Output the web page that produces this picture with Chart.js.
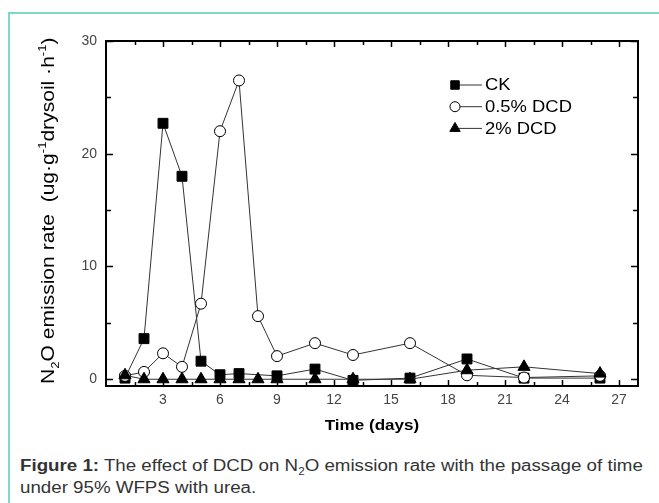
<!DOCTYPE html>
<html><head><meta charset="utf-8">
<script src="https://cdn.jsdelivr.net/npm/chart.js@4"></script>
<style>
html,body{margin:0;padding:0;background:#fff;width:659px;height:503px;overflow:hidden}
#frame{position:absolute;left:8px;top:12px;width:700px;height:600px;border-left:2px solid #7fd6ca;border-top:2px solid #7fd6ca}
#wrap{position:absolute;left:0;top:0;width:659px;height:440px}
#caption{position:absolute;left:20px;top:455px;font:16px "Liberation Sans",Arial,sans-serif;color:#333;line-height:22px;white-space:nowrap;transform:scaleX(1.17);transform-origin:0 0}
#caption sub{font-size:10px;line-height:0}
</style></head>
<body>
<div id="frame"></div>
<div id="wrap"><canvas id="c" width="659" height="440"></canvas></div>
<div id="caption"><b>Figure 1:</b> The effect of DCD on N<sub>2</sub>O emission rate with the passage of time<br>under 95% WFPS with urea.</div>
<script>
// ---- data ----
const seriesNames = ["CK", "0.5% DCD", "2% DCD"];
const ckDays = [1, 2, 3, 4, 5, 6, 7, 9, 11, 13, 16, 19, 22, 26];
const ckValues = [0.1, 3.6, 22.7, 18.0, 1.6, 0.4, 0.5, 0.3, 0.9, -0.1, 0.1, 1.8, 0.1, 0.1];
const dcd05Days = [1, 2, 3, 4, 5, 6, 7, 8, 9, 11, 13, 16, 19, 22, 26];
const dcd05Values = [0.3, 0.65, 2.3, 1.1, 6.7, 22.0, 26.5, 5.6, 2.05, 3.2, 2.15, 3.2, 0.35, 0.15, 0.3];
const dcd2Days = [1, 2, 3, 4, 5, 6, 7, 8, 9, 11, 13, 16, 19, 22, 26];
const dcd2Values = [0.35, 0, 0, 0, 0, 0, 0, 0, 0, 0, 0, 0, 0.8, 1.1, 0.5];
const xTickLabels = [3, 6, 9, 12, 15, 18, 21, 24, 27];
const yTickLabels = [0, 10, 20, 30];

const pts = (xs, ys) => xs.map((x, i) => ({x: x, y: ys[i]}));
const FONT = '"Liberation Sans", Arial, sans-serif';

const datasets = [
  {label: seriesNames[0], data: pts(ckDays, ckValues), pointStyle: 'rect', pointRadius: 7, backgroundColor: '#000', order: 2},
  {label: seriesNames[1], data: pts(dcd05Days, dcd05Values), pointStyle: 'circle', pointRadius: 5.5, backgroundColor: '#fff', order: 1},
  {label: seriesNames[2], data: pts(dcd2Days, dcd2Values), pointStyle: 'triangle', pointRadius: 7, backgroundColor: '#000', order: 0}
].map(d => Object.assign({borderColor: '#333', borderWidth: 1, pointBorderColor: '#000', pointBorderWidth: 1, pointBackgroundColor: d.backgroundColor, pointHoverRadius: d.pointRadius, clip: false, tension: 0}, d));

function drawRich(ctx, segs, size, weight) {
  let x = 0;
  segs.forEach(s => {
    const fs = s.sub || s.sup ? size * 0.62 : size;
    ctx.font = weight + ' ' + fs + 'px ' + FONT;
    const dy = s.sub ? size * 0.3 : (s.sup ? -size * 0.45 : 0);
    ctx.fillText(s.t, x, dy);
    x += ctx.measureText(s.t).width;
  });
}

const decor = {
  id: 'decor',
  afterDatasetsDraw(chart) {
    const ctx = chart.ctx, a = chart.chartArea, xs = chart.scales.x, ys = chart.scales.y;
    ctx.save();
    ctx.strokeStyle = '#000';
    ctx.lineWidth = 2;
    ctx.strokeRect(a.left, a.top, a.right - a.left, a.bottom - a.top);
    ctx.lineWidth = 1.5;
    ctx.beginPath();
    for (let v = 1.5; v <= 27.01; v += 1.5) {
      const px = Math.round(xs.getPixelForValue(v)) + 0.5;
      const len = (Math.abs(v % 3) < 0.01) ? 6 : 4;
      ctx.moveTo(px, a.bottom); ctx.lineTo(px, a.bottom - len);
      ctx.moveTo(px, a.top); ctx.lineTo(px, a.top + len);
    }
    for (let v = 0; v <= 30; v += 5) {
      const py = Math.round(ys.getPixelForValue(v)) + 0.5;
      const len = (v % 10 === 0) ? 7 : 5;
      ctx.moveTo(a.left, py); ctx.lineTo(a.left + len, py);
      ctx.moveTo(a.right, py); ctx.lineTo(a.right - len, py);
    }
    ctx.stroke();

    // legend
    chart.data.datasets.forEach((d, i) => {
      const y = 85 + i * 21.7;
      ctx.strokeStyle = '#333'; ctx.lineWidth = 1;
      ctx.beginPath(); ctx.moveTo(452, y); ctx.lineTo(482, y); ctx.stroke();
      ctx.fillStyle = d.pointBackgroundColor; ctx.strokeStyle = '#000';
      Chart.helpers.drawPoint(ctx, {pointStyle: d.pointStyle, radius: d.pointStyle === 'circle' ? 5 : 6, borderWidth: 1, rotation: 0}, 455, y);
      ctx.save();
      ctx.translate(485, y);
      ctx.scale(1.15, 1);
      ctx.fillStyle = '#000';
      ctx.font = '16px ' + FONT;
      ctx.textBaseline = 'middle';
      ctx.fillText(d.label, 0, 1);
      ctx.restore();
    });

    // x title
    ctx.save();
    ctx.fillStyle = '#000';
    ctx.font = 'bold 14px ' + FONT;
    ctx.textAlign = 'center';
    ctx.textBaseline = 'alphabetic';
    ctx.translate(372, 430);
    ctx.scale(1.22, 1.05);
    ctx.fillText('Time (days)', 0, 0);
    ctx.restore();

    // y title
    ctx.save();
    ctx.fillStyle = '#000';
    ctx.textBaseline = 'alphabetic';
    ctx.translate(54, 384);
    ctx.rotate(-Math.PI / 2);
    ctx.scale(1.17, 1);
    drawRich(ctx, [
      {t: 'N'}, {t: '2', sub: true}, {t: 'O emission rate  (ug·g'}, {t: '-1', sup: true},
      {t: 'drysoil ·h'}, {t: '-1', sup: true}, {t: ')'}
    ], 18, 'normal');
    ctx.restore();
    ctx.restore();
  }
};

new Chart(document.getElementById('c'), {
  type: 'line',
  data: {datasets: datasets},
  options: {
    responsive: false,
    animation: false,
    devicePixelRatio: 1,
    layout: {padding: {top: 41, right: 21, left: 0, bottom: 0}},
    plugins: {legend: {display: false}, tooltip: {enabled: false}},
    scales: {
      x: {
        type: 'linear', min: 0, max: 28,
        grid: {display: false, drawTicks: false}, border: {display: false},
        afterBuildTicks: s => { s.ticks = xTickLabels.map(v => ({value: v})); },
        afterFit: s => { s.height = 54; },
        ticks: {font: {size: 14, family: FONT}, color: '#444', padding: 6, maxRotation: 0, autoSkip: false}
      },
      y: {
        type: 'linear', min: -0.6, max: 30,
        grid: {display: false, drawTicks: false}, border: {display: false},
        afterBuildTicks: s => { s.ticks = yTickLabels.map(v => ({value: v})); },
        afterFit: s => { s.width = 106; },
        ticks: {font: {size: 14, family: FONT}, color: '#444', padding: 9}
      }
    }
  },
  plugins: [decor]
});
</script>
</body></html>
